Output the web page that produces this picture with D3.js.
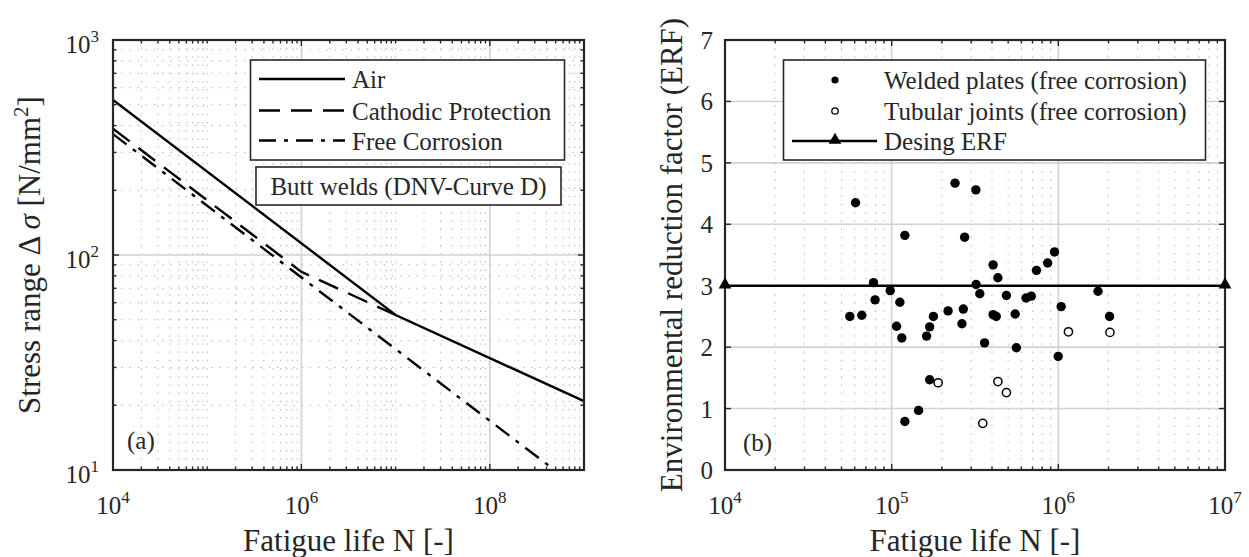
<!DOCTYPE html>
<html><head><meta charset="utf-8">
<script src="https://cdn.jsdelivr.net/npm/d3@7"></script>
<style>body{margin:0;background:#fff}svg{display:block}svg text{font-family:'Liberation Serif','Times New Roman',Times,'DejaVu Serif',serif;fill:#262626}</style>
</head><body><svg id="c" width="1249" height="557" font-family="Liberation Serif, Times New Roman, DejaVu Serif, serif"></svg>
<script>
// ---------- data ----------
// Panel (a): S-N curve breakpoints (N, stress range)
const airN = [1e4, 1e7, 1e9];
const airS = [526, 52.6, 20.9];
const cpN = [1e4, 1e6, 1e7];
const cpS = [387, 83.5, 52.6];
const fcN = [1e4, 4.86e8];
const fcS = [365, 10];
const legendA = ["Air", "Cathodic Protection", "Free Corrosion"];
const xTicksA = [1e4, 1e6, 1e8];
const xTickExpA = ["4", "6", "8"];
const yTicksA = [10, 100, 1000];
const yTickExpA = ["1", "2", "3"];
// Panel (b): ERF scatter
const weldedN = [6.07e4,5.61e4,6.62e4,7.78e4,7.95e4,9.8e4,1.12e5,1.07e5,1.15e5,1.2e5,1.2e5,1.45e5,1.62e5,1.69e5,1.78e5,1.69e5,2.18e5,2.40e5,2.69e5,2.64e5,2.74e5,3.2e5,3.21e5,3.38e5,3.61e5,4.06e5,4.34e5,4.06e5,4.24e5,4.88e5,5.51e5,5.6e5,6.40e5,6.88e5,7.39e5,8.63e5,9.49e5,9.98e5,1.04e6,1.73e6,2.03e6];
const weldedERF = [4.35,2.50,2.52,3.05,2.77,2.92,2.73,2.34,2.15,3.82,0.79,0.97,2.18,2.33,2.50,1.47,2.59,4.67,2.62,2.38,3.79,4.56,3.02,2.87,2.07,3.34,3.13,2.53,2.50,2.84,2.54,1.99,2.80,2.83,3.25,3.37,3.55,1.85,2.66,2.91,2.50];
const tubularN = [1.90e5,3.52e5,4.34e5,4.88e5,1.15e6,2.04e6];
const tubularERF = [1.42,0.76,1.44,1.26,2.25,2.24];
const designN = [1e4, 1e7];
const designERF = [3, 3];
const legendB = ["Welded plates (free corrosion)", "Tubular joints (free corrosion)", "Desing ERF"];
const xTicksB = [1e4, 1e5, 1e6, 1e7];
const xTickExpB = ["4", "5", "6", "7"];
const yTicksB = [0,1,2,3,4,5,6,7];

// ---------- drawing ----------
const svg = d3.select("#c");
const INK = "#262626";
const FS = 25, FT = 31, FSUP = 17;
const FONT = "'Liberation Serif','Times New Roman',Times,'DejaVu Serif',serif";

function frameAndGrid(g, x, y, xMinor, xMajor, yMinor, yMajor, X0, X1, Y0, Y1) {
  g.selectAll(null).data(xMinor).join("line")
    .attr("x1", d => x(d)).attr("x2", d => x(d)).attr("y1", Y0).attr("y2", Y1)
    .attr("stroke", "#b3b3b3").attr("stroke-width", 1).attr("stroke-dasharray", "1.4,6.8");
  g.selectAll(null).data(yMinor).join("line")
    .attr("y1", d => y(d)).attr("y2", d => y(d)).attr("x1", X0).attr("x2", X1)
    .attr("stroke", "#b3b3b3").attr("stroke-width", 1).attr("stroke-dasharray", "1.4,6.8");
  g.selectAll(null).data(xMajor).join("line")
    .attr("x1", d => x(d)).attr("x2", d => x(d)).attr("y1", Y0).attr("y2", Y1)
    .attr("stroke", "#d2d2d2").attr("stroke-width", 1.6);
  g.selectAll(null).data(yMajor).join("line")
    .attr("y1", d => y(d)).attr("y2", d => y(d)).attr("x1", X0).attr("x2", X1)
    .attr("stroke", "#d2d2d2").attr("stroke-width", 1.6);
}
function ticks(g, x, y, xMaj, xMin, yMaj, yMin, X0, X1, Y0, Y1) {
  const L = 6, l = 3.5;
  const tk = (arr, len, horiz) => {
    arr.forEach(v => {
      if (horiz) {
        const px = x(v);
        g.append("line").attr("x1", px).attr("x2", px).attr("y1", Y1).attr("y2", Y1 - len).attr("stroke", INK).attr("stroke-width", 1.4);
        g.append("line").attr("x1", px).attr("x2", px).attr("y1", Y0).attr("y2", Y0 + len).attr("stroke", INK).attr("stroke-width", 1.4);
      } else {
        const py = y(v);
        g.append("line").attr("y1", py).attr("y2", py).attr("x1", X0).attr("x2", X0 + len).attr("stroke", INK).attr("stroke-width", 1.4);
        g.append("line").attr("y1", py).attr("y2", py).attr("x1", X1).attr("x2", X1 - len).attr("stroke", INK).attr("stroke-width", 1.4);
      }
    });
  };
  tk(xMaj, L, true); tk(xMin, l, true); tk(yMaj, L, false); tk(yMin, l, false);
}
function box(g, X0, X1, Y0, Y1) {
  g.append("rect").attr("x", X0).attr("y", Y0).attr("width", X1 - X0).attr("height", Y1 - Y0)
    .attr("fill", "none").attr("stroke", INK).attr("stroke-width", 2.2);
}
function txt(g, x, y, size, anchor) {
  return g.append("text").attr("x", x).attr("y", y).attr("font-size", size)
    .attr("font-family", FONT).attr("text-anchor", anchor || "start").attr("fill", INK);
}
function powLabel(g, px, py, exp, anchor) {
  const t = txt(g, px, py, FS, anchor);
  t.append("tspan").text("10");
  t.append("tspan").attr("dy", -11).attr("font-size", FSUP).text(exp);
}
function decadeMinor(lo, hi) {
  const out = [];
  for (let d = lo; d < hi; d++) for (let k = 2; k <= 9; k++) out.push(k * Math.pow(10, d));
  return out;
}

// ----- Panel (a) -----
{
  const X0 = 113, X1 = 584, Y0 = 40, Y1 = 470;
  const x = d3.scaleLog().domain([1e4, 1e9]).range([X0, X1]);
  const y = d3.scaleLog().domain([10, 1000]).range([Y1, Y0]);
  const g = svg.append("g");
  const xMinor = decadeMinor(4, 9).concat([1e5, 1e7]);
  const yMinor = decadeMinor(1, 3);
  frameAndGrid(g, x, y, xMinor, [1e6, 1e8], yMinor, [100], X0, X1, Y0, Y1);
  ticks(g, x, y, xTicksA, xMinor, yTicksA, yMinor, X0, X1, Y0, Y1);

  g.append("clipPath").attr("id", "clipA").append("rect").attr("x", X0).attr("y", Y0).attr("width", X1 - X0).attr("height", Y1 - Y0);
  const line = d3.line().x(d => x(d[0])).y(d => y(d[1]));
  const curves = [
    {n: airN, s: airS, dash: null},
    {n: cpN, s: cpS, dash: "21,11"},
    {n: fcN, s: fcS, dash: "17,8,4,8"}
  ];
  curves.forEach(c => {
    g.append("path").attr("clip-path", "url(#clipA)")
      .attr("d", line(c.n.map((v, i) => [v, c.s[i]])))
      .attr("fill", "none").attr("stroke", "#000").attr("stroke-width", 2.4)
      .attr("stroke-dasharray", c.dash);
  });
  box(g, X0, X1, Y0, Y1);

  xTicksA.forEach((v, i) => powLabel(g, x(v), 514, xTickExpA[i], "middle"));
  yTicksA.forEach((v, i) => powLabel(g, 99, y(v) + 13, yTickExpA[i], "end"));

  g.append("rect").attr("x", 250.5).attr("y", 60).attr("width", 314).attr("height", 100)
    .attr("fill", "#fff").attr("stroke", INK).attr("stroke-width", 1.6);
  const ly = [79, 110.5, 140.5];
  curves.forEach((c, i) => {
    g.append("line").attr("x1", 259).attr("x2", 345).attr("y1", ly[i]).attr("y2", ly[i])
      .attr("stroke", "#000").attr("stroke-width", 2.4).attr("stroke-dasharray", c.dash);
    txt(g, 352, ly[i] + 9, FS).text(legendA[i]);
  });
  g.append("rect").attr("x", 256).attr("y", 167).attr("width", 305).attr("height", 38)
    .attr("fill", "#fff").attr("stroke", INK).attr("stroke-width", 1.6);
  txt(g, 408.5, 195, FS, "middle").text("Butt welds (DNV-Curve D)");
  txt(g, 127, 449, FS).text("(a)");

  txt(g, (X0 + X1) / 2, 551, FT, "middle").text("Fatigue life N [-]");
  const yt = txt(g, 0, 0, FT, "middle").attr("x", null).attr("y", null)
    .attr("transform", `translate(40,${(Y0 + Y1) / 2}) rotate(-90)`);
  yt.append("tspan").text("Stress range \u0394 ");
  yt.append("tspan").attr("font-style", "italic").text("\u03c3");
  yt.append("tspan").text(" [N/mm");
  yt.append("tspan").attr("dy", -12).attr("font-size", 21).text("2");
  yt.append("tspan").attr("dy", 12).text("]");
}

// ----- Panel (b) -----
{
  const X0 = 725, X1 = 1225, Y0 = 40, Y1 = 470;
  const x = d3.scaleLog().domain([1e4, 1e7]).range([X0, X1]);
  const y = d3.scaleLinear().domain([0, 7]).range([Y1, Y0]);
  const g = svg.append("g");
  const xMinor = decadeMinor(4, 7);
  frameAndGrid(g, x, y, xMinor, [1e5, 1e6], [], [1,2,3,4,5,6], X0, X1, Y0, Y1);
  ticks(g, x, y, xTicksB, xMinor, yTicksB, [], X0, X1, Y0, Y1);

  g.selectAll(null).data(weldedN.map((v, i) => [v, weldedERF[i]])).join("circle")
    .attr("cx", d => x(d[0])).attr("cy", d => y(d[1])).attr("r", 4.7).attr("fill", "#000");
  g.selectAll(null).data(tubularN.map((v, i) => [v, tubularERF[i]])).join("circle")
    .attr("cx", d => x(d[0])).attr("cy", d => y(d[1])).attr("r", 4.1).attr("fill", "#fff")
    .attr("stroke", "#000").attr("stroke-width", 1.5);
  const dpts = designN.map((v, i) => [v, designERF[i]]);
  g.append("path").attr("d", d3.line().x(d => x(d[0])).y(d => y(d[1]))(dpts))
    .attr("stroke", "#000").attr("stroke-width", 2.6).attr("fill", "none");
  const tri = d3.symbol().type(d3.symbolTriangle).size(70);
  box(g, X0, X1, Y0, Y1);
  dpts.forEach(d => g.append("path").attr("d", tri()).attr("transform", `translate(${x(d[0])},${y(d[1]) - 1})`).attr("fill", "#000"));

  xTicksB.forEach((v, i) => powLabel(g, x(v), 514, xTickExpB[i], "middle"));
  yTicksB.forEach(v => txt(g, 713, y(v) + 9, FS, "end").text(v));

  g.append("rect").attr("x", 783.5).attr("y", 60).attr("width", 422).attr("height", 100)
    .attr("fill", "#fff").attr("stroke", INK).attr("stroke-width", 1.6);
  const ly = [80, 111, 141];
  g.append("circle").attr("cx", 835).attr("cy", ly[0]).attr("r", 3.6).attr("fill", "#000");
  g.append("circle").attr("cx", 835).attr("cy", ly[1]).attr("r", 3.2).attr("fill", "#fff").attr("stroke", "#000").attr("stroke-width", 1.3);
  g.append("line").attr("x1", 792).attr("x2", 877).attr("y1", ly[2]).attr("y2", ly[2]).attr("stroke", "#000").attr("stroke-width", 2.6);
  g.append("path").attr("d", tri()).attr("transform", `translate(835,${ly[2] - 1})`).attr("fill", "#000");
  legendB.forEach((t, i) => txt(g, 884, ly[i] + 9, FS).text(t));

  txt(g, 743, 451, FS).text("(b)");

  txt(g, (X0 + X1) / 2, 551, FT, "middle").text("Fatigue life N [-]");
  txt(g, 0, 0, FT, "middle").attr("x", null).attr("y", null)
    .attr("transform", `translate(682,${(Y0 + Y1) / 2}) rotate(-90)`).text("Environmental reduction factor (ERF)");
}
</script></body></html>
